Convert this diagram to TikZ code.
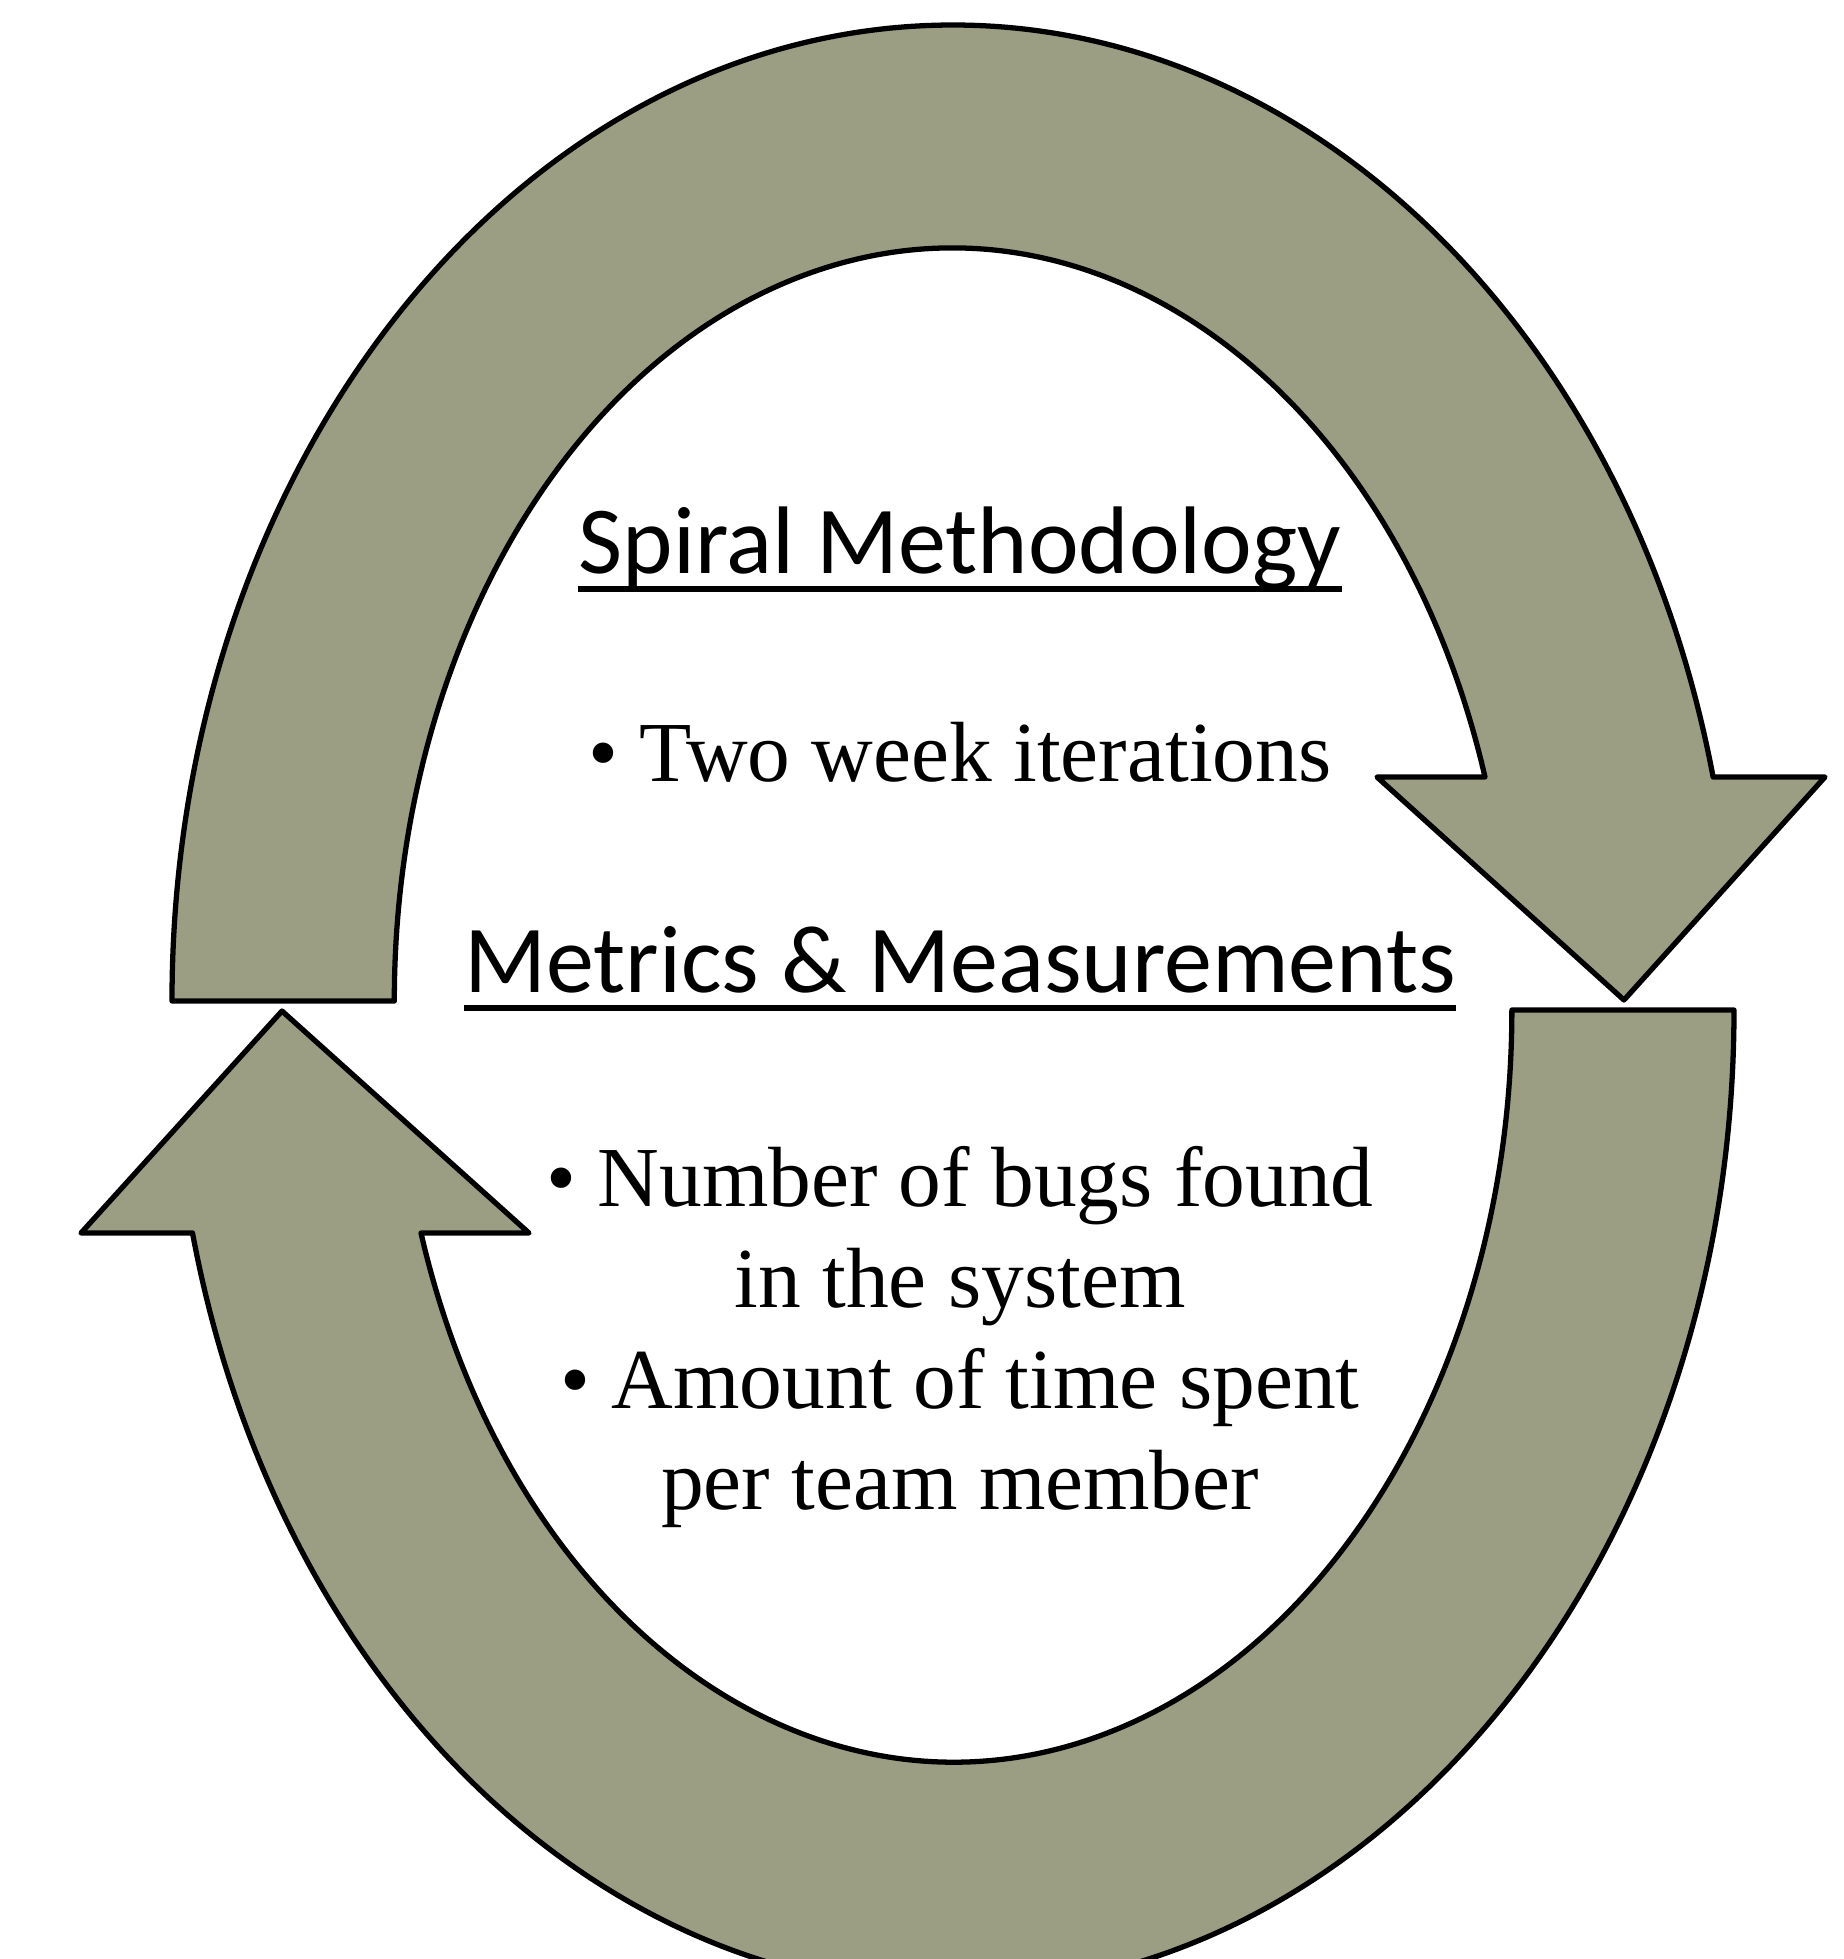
\documentclass[tikz,border=0pt]{standalone}
\usepackage{fontspec}
\setmainfont{Liberation Serif}
\newfontfamily\headfont{Carlito}
\definecolor{loopgreen}{RGB}{156,158,132}

\begin{document}
\begin{tikzpicture}[x=0.01cm,y=0.01cm,
    looparrow/.style={draw=black,fill=loopgreen,line width=1.5pt,line join=round},
    heading/.style={font=\headfont\fontsize{27.3}{32}\selectfont,inner sep=0pt,anchor=base},
    bullets/.style={font=\fontsize{24.3}{28.7}\selectfont,align=center,inner sep=0pt,anchor=base},
    underrule/.style={line width=1.6pt}]
  \useasboundingbox (0,0) rectangle (1844,-1959);

  % upper arrow, turning down on the right
  \draw[looparrow] (172,-1001)
      arc[start angle=180,end angle=13.27,x radius=781,y radius=976]
      -- (1825,-777) -- (1624,-1000) -- (1377,-777) -- (1485,-777)
      arc[start angle=17.31,end angle=180,x radius=558,y radius=753]
      -- cycle;

  % lower arrow, turning up on the left
  \draw[looparrow] (1734,-1010)
      arc[start angle=0,end angle=-166.85,x radius=781,y radius=980]
      -- (81,-1233) -- (282,-1011) -- (529,-1233) -- (421,-1233)
      arc[start angle=-162.75,end angle=0,x radius=558,y radius=752]
      -- cycle;

  \node[heading] (spiral) at (960,-573) {Spiral Methodology};
  \draw[underrule] ([yshift=-0.16cm]spiral.base west) -- ([yshift=-0.16cm]spiral.base east);
  \node[bullets] (twoweek) at (960,-781) {\textbullet\ Two week iterations};

  \node[heading] (metrics) at (960,-992) {Metrics \& Measurements};
  \draw[underrule] ([yshift=-0.16cm]metrics.base west) -- ([yshift=-0.16cm]metrics.base east);
  % base of a multi-line node sits on its last line
  \node[bullets] (measures) at (960,-1509) {\textbullet\ Number of bugs found\\in the system\\
    \textbullet\ Amount of time spent\\per team member};
\end{tikzpicture}
\end{document}
